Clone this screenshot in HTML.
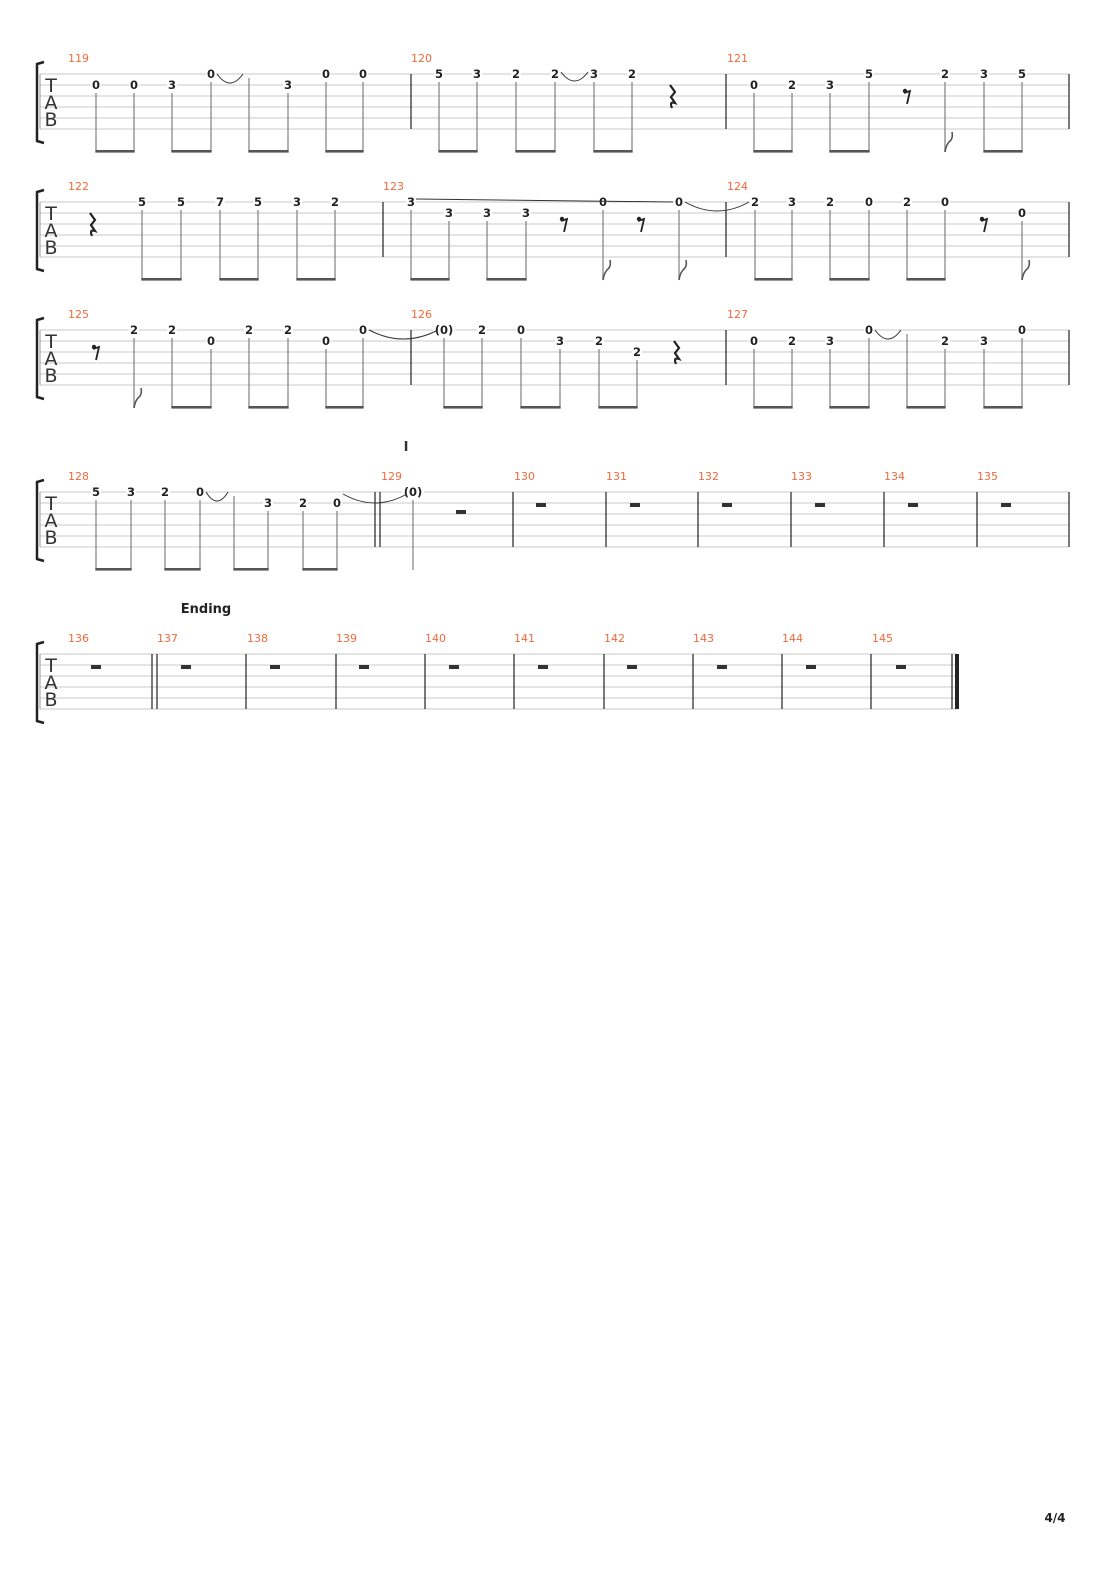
<!DOCTYPE html>
<html><head><meta charset="utf-8"><style>
body{margin:0;background:#fff;width:1110px;height:1570px;overflow:hidden}
svg text{font-family:"DejaVu Sans","Liberation Sans",sans-serif}
</style></head><body>
<svg id="s" width="1110" height="1570" xmlns="http://www.w3.org/2000/svg"></svg>
<script>
const S=document.getElementById('s');let h='';
function ln(x1,y1,x2,y2,c,w){h+=`<line x1="${x1}" y1="${y1}" x2="${x2}" y2="${y2}" stroke="${c}" stroke-width="${w}"/>`;}
function tx(x,y,t,sz,c,wt,a){h+=`<text x="${x}" y="${y}" font-size="${sz}" fill="${c}" font-weight="${wt||'normal'}" text-anchor="${a||'middle'}">${t}</text>`;}
function sys(top,end,bars,nums,notes,beams,flags,ties,stems,rests){
  for(let i=0;i<6;i++)ln(40,top+i*11,end,top+i*11,'#c8c8c8',1);
  ln(40,top,40,top+55,'#999',1);
  h+=`<path d="M44,${top-12} L37,${top-10} L37,${top+67} L44,${top+69}" fill="none" stroke="#222" stroke-width="2.5"/>`;
  tx(51,top+18,'T',19,'#333');tx(51,top+35,'A',19,'#333');tx(51,top+52,'B',19,'#333');
  bars.forEach(b=>ln(b,top,b,top+55,'#222',1.2));
  nums.forEach(n=>tx(n[0],top-12,n[1],11,'#f06a3a','normal','start'));
  notes.forEach(n=>{let y=top+(n[1]-1)*11;h+=`<rect x="${n[0]-(n[2].length>1?11:5)}" y="${y-6}" width="${n[2].length>1?22:10}" height="12" fill="#fff"/>`;tx(n[0],y+4,n[2],11.5,'#222','bold');
    if(!n[3])ln(n[0],y+8,n[0],top+78,'#888',1.3);});
  (stems||[]).forEach(x=>ln(x,top+4,x,top+78,'#888',1.3));
  beams.forEach(b=>h+=`<rect x="${b[0]-0.6}" y="${top+76}" width="${b[1]-b[0]+1.2}" height="2.6" fill="#555"/>`);
  flags.forEach(x=>h+=`<path d="M${x},${top+78} q1,-8 6,-12 q2,-3 1,-8" fill="none" stroke="#555" stroke-width="1.6"/>`);
  ties.forEach(t=>h+=`<path d="M${t[0]+6},${top+(t[2]||0)} Q${(t[0]+t[1])/2},${top+(t[2]||0)+18} ${t[1]-6},${top+(t[2]||0)}" fill="none" stroke="#333" stroke-width="1"/>`);
  (rests||[]).forEach(r=>{let x=r[1];if(r[0]=='q')h+=`<path d="M${x-2},${top+11} L${x+3},${top+18} L${x-1},${top+23} L${x+3},${top+29} Q${x-3},${top+27} ${x},${top+34}" fill="none" stroke="#222" stroke-width="2.2"/>`;else if(r[0]=='e')h+=`<circle cx="${x-2}" cy="${top+17}" r="2.2" fill="#222"/><path d="M${x-3},${top+19} L${x+3},${top+17} L${x},${top+30}" fill="none" stroke="#222" stroke-width="1.8"/>`;
    else if(r[0]=='w')h+=`<rect x="${x-5}" y="${top+11}" width="10" height="4" fill="#333"/>`;else h+=`<rect x="${x-5}" y="${top+18}" width="10" height="4" fill="#333"/>`;});
}
sys(74,1069,[411,726,1069],[[68,119],[411,120],[727,121]],
 [[96,2,'0'],[134,2,'0'],[172,2,'3'],[211,1,'0'],[288,2,'3'],[326,1,'0'],[363,1,'0'],[439,1,'5'],[477,1,'3'],[516,1,'2'],[555,1,'2'],[594,1,'3'],[632,1,'2'],[754,2,'0'],[792,2,'2'],[830,2,'3'],[869,1,'5'],[945,1,'2'],[984,1,'3'],[1022,1,'5']],
 [[96,134],[172,211],[249,288],[326,363],[439,477],[516,555],[594,632],[754,792],[830,869],[984,1022]],[945],[[211,249,0],[555,594,-2]],[249],[['q',672],['e',907]]);
sys(202,1069,[383,726,1069],[[68,122],[383,123],[727,124]],
 [[142,1,'5'],[181,1,'5'],[220,1,'7'],[258,1,'5'],[297,1,'3'],[335,1,'2'],[411,1,'3'],[449,2,'3'],[487,2,'3'],[526,2,'3'],[603,1,'0'],[679,1,'0'],[755,1,'2'],[792,1,'3'],[830,1,'2'],[869,1,'0'],[907,1,'2'],[945,1,'0'],[1022,2,'0']],
 [[142,181],[220,258],[297,335],[411,449],[487,526],[755,792],[830,869],[907,945]],[603,679,1022],[[679,755,0]],[],[['q',92],['e',564],['e',641],['e',984]]);
ln(416,199,673,202,'#333',1);
sys(330,1069,[411,726,1069],[[68,125],[411,126],[727,127]],
 [[134,1,'2'],[172,1,'2'],[211,2,'0'],[249,1,'2'],[288,1,'2'],[326,2,'0'],[363,1,'0'],[444,1,'(0)'],[482,1,'2'],[521,1,'0'],[560,2,'3'],[599,2,'2'],[637,3,'2'],[754,2,'0'],[792,2,'2'],[830,2,'3'],[869,1,'0'],[945,2,'2'],[984,2,'3'],[1022,1,'0']],
 [[172,211],[249,288],[326,363],[444,482],[521,560],[599,637],[754,792],[830,869],[907,945],[984,1022]],[134],[[363,444,0],[869,907,0]],[907],[['e',96],['q',676]]);
sys(492,1069,[375,380,513,606,698,791,884,977,1069],[[68,128],[381,129],[514,130],[606,131],[698,132],[791,133],[884,134],[977,135]],
 [[96,1,'5'],[131,1,'3'],[165,1,'2'],[200,1,'0'],[268,2,'3'],[303,2,'2'],[337,2,'0'],[413,1,'(0)',1]],
 [[96,131],[165,200],[234,268],[303,337]],[],[[200,234,0],[337,413,2]],[234],[['h',461],['w',541],['w',635],['w',727],['w',820],['w',913],['w',1006]]);
ln(413,500,413,570,'#888',1.3);
tx(406,451,'I',13,'#333','bold');
sys(654,957,[152,157,246,336,425,514,604,693,782,871,952],[[68,136],[157,137],[247,138],[336,139],[425,140],[514,141],[604,142],[693,143],[782,144],[872,145]],
 [],[],[],[],[],[[ 'w',96],['w',186],['w',275],['w',364],['w',454],['w',543],['w',632],['w',722],['w',811],['w',901]]);
h+=`<rect x="955" y="654" width="4" height="55" fill="#222"/>`;
tx(206,613,'Ending',13,'#222','bold');
tx(1055,1522,'4/4',12,'#222','bold');
S.innerHTML=h;
</script>
</body></html>
